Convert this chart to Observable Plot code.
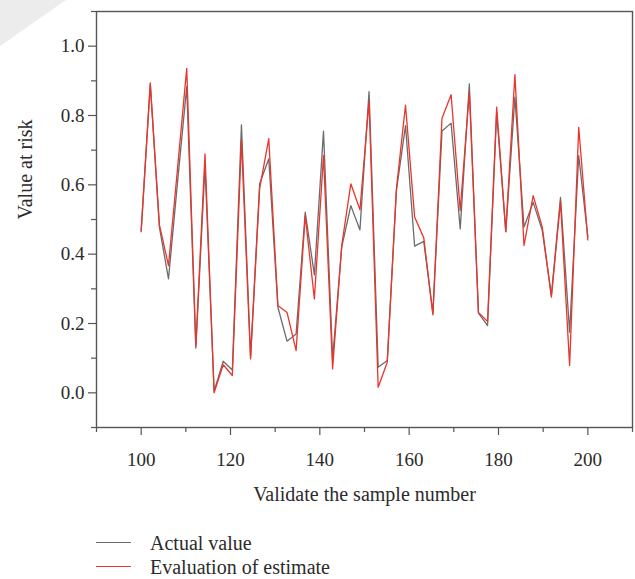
<!DOCTYPE html>
<html><head><meta charset="utf-8">
<script src="https://cdn.jsdelivr.net/npm/d3@7"></script>
<script src="https://cdn.jsdelivr.net/npm/@observablehq/plot@0.6"></script>
<style>
body{margin:0;background:#fff;}
#wrap{position:relative;width:635px;height:579px;overflow:hidden;font-family:"Liberation Serif","DejaVu Serif",serif;color:#2b2b2b;}
#corner{position:absolute;left:0;top:0;width:66px;height:46px;background:#ececec;clip-path:polygon(0 0,100% 0,0 100%);}
#legend{position:absolute;left:0;top:533px;width:635px;}
.row{position:absolute;left:0;height:20px;width:635px;}
.row .sw{position:absolute;left:96px;top:9px;width:35px;height:1.4px;}
.row .lb{position:absolute;left:150px;top:0;font-size:20px;line-height:20px;white-space:nowrap;}
</style></head><body><div id="wrap"><div id="corner"></div></div>
<script>
const sampleNumber = [100,102.04,104.08,106.12,108.16,110.2,112.24,114.29,116.33,118.37,120.41,122.45,124.49,126.53,128.57,130.61,132.65,134.69,136.73,138.78,140.82,142.86,144.9,146.94,148.98,151.02,153.06,155.1,157.14,159.18,161.22,163.27,165.31,167.35,169.39,171.43,173.47,175.51,177.55,179.59,181.63,183.67,185.71,187.76,189.8,191.84,193.88,195.92,197.96,200];
const actualValue = [0.465,0.89,0.478,0.329,0.61,0.883,0.129,0.654,0.005,0.091,0.066,0.773,0.105,0.603,0.675,0.247,0.149,0.170,0.521,0.34,0.755,0.098,0.42,0.540,0.470,0.869,0.074,0.093,0.583,0.771,0.423,0.437,0.23,0.755,0.778,0.473,0.891,0.23,0.194,0.809,0.465,0.853,0.478,0.55,0.468,0.281,0.564,0.175,0.684,0.45];
const estimateValue = [0.468,0.894,0.485,0.367,0.65,0.936,0.136,0.689,0.0,0.081,0.050,0.728,0.098,0.59,0.733,0.252,0.232,0.122,0.511,0.271,0.684,0.069,0.425,0.603,0.528,0.841,0.016,0.088,0.588,0.83,0.507,0.447,0.225,0.792,0.860,0.526,0.867,0.232,0.206,0.824,0.465,0.918,0.425,0.569,0.478,0.276,0.552,0.079,0.766,0.441];
const xMajorTicks = [100,120,140,160,180,200];
const xMinorTicks = [90,110,130,150,170,190,210];
const yMajorTicks = [0,0.2,0.4,0.6,0.8,1.0];
const yMinorTicks = [-0.1,0.1,0.3,0.5,0.7,0.9,1.1];
const seriesNames = ["Actual value","Evaluation of estimate"];
const seriesColors = ["#6b6b6b","#e8352e"];
const xTitle = "Validate the sample number";
const yTitle = "Value at risk";

const rows = sampleNumber.map((x,i)=>({x, actual: actualValue[i], estimate: estimateValue[i]}));
const axisColor = "#555";

const chart = Plot.plot({
  width: 635, height: 520,
  marginLeft: 96, marginRight: 3, marginTop: 11, marginBottom: 93,
  style: {fontFamily: '"Liberation Serif","DejaVu Serif",serif', fontSize: "19px", color: "#2b2b2b", background: "transparent"},
  x: {domain: [90,210]},
  y: {domain: [-0.1,1.1]},
  marks: [
    Plot.axisX({ticks: xMajorTicks, tickSize: 8, tickPadding: 17, stroke: axisColor, strokeWidth: 1.2, label: null, fill: "#2b2b2b"}),
    Plot.axisX({ticks: xMinorTicks, tickSize: 5, text: null, stroke: axisColor, strokeWidth: 1.2, label: null}),
    Plot.axisY({ticks: yMajorTicks, tickSize: 8, tickPadding: 4, tickFormat: d3.format(".1f"), stroke: axisColor, strokeWidth: 1.2, label: null, fill: "#2b2b2b"}),
    Plot.axisY({ticks: yMinorTicks, tickSize: 5, text: null, stroke: axisColor, strokeWidth: 1.2, label: null}),
    Plot.line(rows, {x: "x", y: "actual", stroke: seriesColors[0], strokeWidth: 1.3}),
    Plot.line(rows, {x: "x", y: "estimate", stroke: seriesColors[1], strokeWidth: 1.3}),
    Plot.frame({stroke: axisColor, strokeWidth: 1.4}),
    Plot.text([xTitle], {frameAnchor: "bottom", dy: 73, fontSize: 20, fill: "#2b2b2b"}),
    Plot.text([yTitle], {frameAnchor: "left", dx: -71, rotate: -90, fontSize: 20, fill: "#2b2b2b"})
  ]
});
const wrap = document.getElementById("wrap");
chart.style.position = "absolute"; chart.style.left = "0"; chart.style.top = "0";
wrap.appendChild(chart);

const legend = document.createElement("div");
legend.id = "legend";
seriesNames.forEach((name,i)=>{
  const r = document.createElement("div"); r.className = "row"; r.style.top = (i*24) + "px";
  const sw = document.createElement("div"); sw.className = "sw"; sw.style.background = seriesColors[i];
  const lb = document.createElement("div"); lb.className = "lb"; lb.textContent = name;
  r.appendChild(sw); r.appendChild(lb); legend.appendChild(r);
});
wrap.appendChild(legend);
</script></body></html>
